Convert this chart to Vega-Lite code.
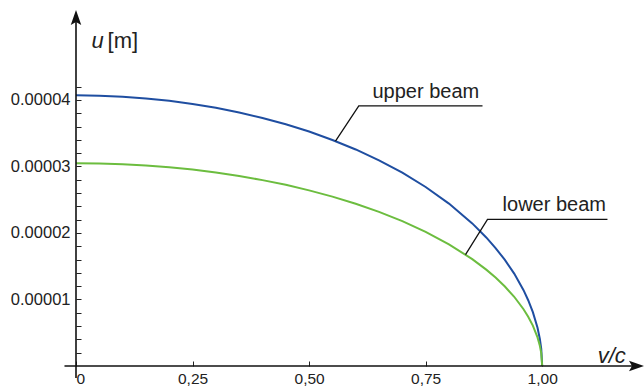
{
  "$schema": "https://vega.github.io/schema/vega-lite/v6.json",
  "width": 568,
  "height": 356,
  "autosize": {"type": "none"},
  "padding": {"left": 76, "top": 10, "right": 0, "bottom": 22},
  "background": "white",
  "config": {"view": {"stroke": null}, "font": "Liberation Sans"},
  "datasets": {
    "curves": [
      {"v": 0, "u": 0.0000407, "beam": "upper beam"},
      {"v": 0.05, "u": 0.00004065, "beam": "upper beam"},
      {"v": 0.1, "u": 0.0000405, "beam": "upper beam"},
      {"v": 0.15, "u": 0.00004024, "beam": "upper beam"},
      {"v": 0.2, "u": 0.00003988, "beam": "upper beam"},
      {"v": 0.25, "u": 0.00003941, "beam": "upper beam"},
      {"v": 0.3, "u": 0.00003883, "beam": "upper beam"},
      {"v": 0.35, "u": 0.00003813, "beam": "upper beam"},
      {"v": 0.4, "u": 0.0000373, "beam": "upper beam"},
      {"v": 0.45, "u": 0.00003635, "beam": "upper beam"},
      {"v": 0.5, "u": 0.00003525, "beam": "upper beam"},
      {"v": 0.55, "u": 0.00003399, "beam": "upper beam"},
      {"v": 0.6, "u": 0.00003256, "beam": "upper beam"},
      {"v": 0.65, "u": 0.00003093, "beam": "upper beam"},
      {"v": 0.7, "u": 0.00002907, "beam": "upper beam"},
      {"v": 0.75, "u": 0.00002692, "beam": "upper beam"},
      {"v": 0.8, "u": 0.00002442, "beam": "upper beam"},
      {"v": 0.85, "u": 0.00002144, "beam": "upper beam"},
      {"v": 0.88, "u": 0.00001933, "beam": "upper beam"},
      {"v": 0.9, "u": 0.00001774, "beam": "upper beam"},
      {"v": 0.92, "u": 0.00001595, "beam": "upper beam"},
      {"v": 0.94, "u": 0.00001389, "beam": "upper beam"},
      {"v": 0.96, "u": 0.0000114, "beam": "upper beam"},
      {"v": 0.97, "u": 0.00000989, "beam": "upper beam"},
      {"v": 0.98, "u": 0.0000081, "beam": "upper beam"},
      {"v": 0.99, "u": 0.00000574, "beam": "upper beam"},
      {"v": 0.995, "u": 0.00000406, "beam": "upper beam"},
      {"v": 0.998, "u": 0.00000257, "beam": "upper beam"},
      {"v": 1, "u": 0, "beam": "upper beam"},
      {"v": 0, "u": 0.0000305, "beam": "lower beam"},
      {"v": 0.05, "u": 0.00003046, "beam": "lower beam"},
      {"v": 0.1, "u": 0.00003035, "beam": "lower beam"},
      {"v": 0.15, "u": 0.00003015, "beam": "lower beam"},
      {"v": 0.2, "u": 0.00002988, "beam": "lower beam"},
      {"v": 0.25, "u": 0.00002953, "beam": "lower beam"},
      {"v": 0.3, "u": 0.0000291, "beam": "lower beam"},
      {"v": 0.35, "u": 0.00002857, "beam": "lower beam"},
      {"v": 0.4, "u": 0.00002795, "beam": "lower beam"},
      {"v": 0.45, "u": 0.00002724, "beam": "lower beam"},
      {"v": 0.5, "u": 0.00002641, "beam": "lower beam"},
      {"v": 0.55, "u": 0.00002547, "beam": "lower beam"},
      {"v": 0.6, "u": 0.0000244, "beam": "lower beam"},
      {"v": 0.65, "u": 0.00002318, "beam": "lower beam"},
      {"v": 0.7, "u": 0.00002178, "beam": "lower beam"},
      {"v": 0.75, "u": 0.00002017, "beam": "lower beam"},
      {"v": 0.8, "u": 0.0000183, "beam": "lower beam"},
      {"v": 0.85, "u": 0.00001607, "beam": "lower beam"},
      {"v": 0.88, "u": 0.00001449, "beam": "lower beam"},
      {"v": 0.9, "u": 0.00001329, "beam": "lower beam"},
      {"v": 0.92, "u": 0.00001195, "beam": "lower beam"},
      {"v": 0.94, "u": 0.00001041, "beam": "lower beam"},
      {"v": 0.96, "u": 0.00000854, "beam": "lower beam"},
      {"v": 0.97, "u": 0.00000741, "beam": "lower beam"},
      {"v": 0.98, "u": 0.00000607, "beam": "lower beam"},
      {"v": 0.99, "u": 0.0000043, "beam": "lower beam"},
      {"v": 0.995, "u": 0.00000305, "beam": "lower beam"},
      {"v": 0.998, "u": 0.00000193, "beam": "lower beam"},
      {"v": 1, "u": 0, "beam": "lower beam"}
    ],
    "axislines": [
      {"v": 0, "u": -0.0000018, "v2": 0, "u2": 0.000052},
      {"v": -0.0247, "u": 0, "v2": 1.2, "u2": 0}
    ],
    "arrows": [
      {"v": 0, "u": 0.0000524, "dir": "up"},
      {"v": 1.2023, "u": 0, "dir": "right"}
    ],
    "leaders": [
      {"beam": "upper beam", "i": 0, "v": 0.5566, "u": 0.0000338},
      {"beam": "upper beam", "i": 1, "v": 0.6066, "u": 0.0000391},
      {"beam": "upper beam", "i": 2, "v": 0.872, "u": 0.0000391},
      {"beam": "lower beam", "i": 0, "v": 0.8355, "u": 0.00001676},
      {"beam": "lower beam", "i": 1, "v": 0.8827, "u": 0.00002206},
      {"beam": "lower beam", "i": 2, "v": 1.14, "u": 0.00002206}
    ],
    "labels": [
      {"text": "upper beam", "v": 0.636, "u": 0.0000403, "kind": "note"},
      {"text": "lower beam", "v": 0.915, "u": 0.00002335, "kind": "note"},
      {"text": "u", "v": 0.0333, "u": 0.0000478, "kind": "italic"},
      {"text": "v/c", "v": 1.119, "u": 0.00000045, "kind": "italic"},
      {"text": "[m]", "v": 0.0676, "u": 0.0000478, "kind": "unit"}
    ]
  },
  "encoding": {
    "x": {
      "field": "v", "type": "quantitative",
      "scale": {"domain": [0, 1.2184], "nice": false, "zero": false},
      "axis": {
        "values": [0, 0.25, 0.5, 0.75, 1],
        "labelExpr": "datum.value == 0 ? '0' : replace(format(datum.value, '.2f'), '.', ',')",
        "domain": false, "grid": false, "title": null,
        "tickSize": -5, "tickColor": "#222", "tickWidth": 1,
        "labelPadding": 10, "labelFontSize": 15.5, "labelColor": "#222",
        "labelFlush": true, "labelFlushOffset": 0, "labelOverlap": false
      }
    },
    "y": {
      "field": "u", "type": "quantitative",
      "scale": {"domain": [0, 0.00005353], "nice": false, "zero": false},
      "axis": {
        "values": [0.000002, 0.000004, 0.000006, 0.000008, 0.00001, 0.000012, 0.000014, 0.000016, 0.000018, 0.00002, 0.000022, 0.000024, 0.000026, 0.000028, 0.00003, 0.000032, 0.000034, 0.000036, 0.000038, 0.00004, 0.000042],
        "labelExpr": "abs(datum.value * 100000 - round(datum.value * 100000)) < 0.001 ? format(datum.value, '.5f') : ''",
        "domain": false, "grid": false, "title": null,
        "tickSize": -5, "tickColor": "#222", "tickWidth": 1,
        "labelPadding": 11, "labelFontSize": 16.5, "labelColor": "#222",
        "labelOverlap": false
      }
    }
  },
  "layer": [
    {
      "data": {"name": "curves"},
      "mark": {"type": "line", "strokeWidth": 2, "interpolate": "linear"},
      "encoding": {
        "color": {
          "field": "beam", "type": "nominal",
          "scale": {"domain": ["upper beam", "lower beam"], "range": ["#1f4ea1", "#6cbd3f"]},
          "legend": null
        },
        "detail": {"field": "beam"}
      }
    },
    {
      "data": {"name": "axislines"},
      "mark": {"type": "rule", "color": "#111", "strokeWidth": 1.6},
      "encoding": {
        "x2": {"field": "v2"},
        "y2": {"field": "u2"}
      }
    },
    {
      "data": {"name": "arrows"},
      "mark": {"type": "point", "filled": true, "size": 225, "color": "#111", "opacity": 1},
      "encoding": {
        "shape": {
          "field": "dir", "type": "nominal",
          "scale": {"domain": ["up", "right"], "range": ["M0,-1L0.7,1L0,0.6L-0.7,1Z", "M1,0L-1,0.7L-0.6,0L-1,-0.7Z"]},
          "legend": null
        }
      }
    },
    {
      "data": {"name": "leaders"},
      "mark": {"type": "line", "color": "#111", "strokeWidth": 1.3},
      "encoding": {
        "detail": {"field": "beam"},
        "order": {"field": "i", "type": "quantitative"}
      }
    },
    {
      "data": {"name": "labels"},
      "transform": [{"filter": "datum.kind == 'note'"}],
      "mark": {"type": "text", "align": "left", "baseline": "alphabetic", "fontSize": 20, "color": "#222"},
      "encoding": {"text": {"field": "text"}}
    },
    {
      "data": {"name": "labels"},
      "transform": [{"filter": "datum.kind == 'italic'"}],
      "mark": {"type": "text", "align": "left", "baseline": "alphabetic", "fontSize": 22, "fontStyle": "italic", "color": "#222"},
      "encoding": {"text": {"field": "text"}}
    },
    {
      "data": {"name": "labels"},
      "transform": [{"filter": "datum.kind == 'unit'"}],
      "mark": {"type": "text", "align": "left", "baseline": "alphabetic", "fontSize": 22, "color": "#222"},
      "encoding": {"text": {"field": "text"}}
    }
  ]
}
